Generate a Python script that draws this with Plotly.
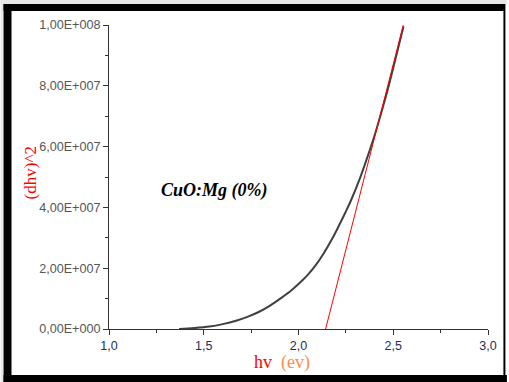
import plotly.graph_objects as go

# ---- data ----
hv = [1.37, 1.45, 1.53, 1.60, 1.67, 1.73, 1.79, 1.85, 1.915, 1.96, 2.00, 2.05, 2.09,
      2.13, 2.177, 2.215, 2.248, 2.279, 2.326, 2.365, 2.405, 2.436, 2.466, 2.51, 2.554]
dhv2 = [0.0, 0.3e6, 0.8e6, 1.6e6, 2.7e6, 4.0e6, 5.6e6, 7.7e6, 10.5e6, 12.6e6, 14.8e6,
        17.9e6, 20.9e6, 24.6e6, 29.6e6, 34.2e6, 38.4e6, 42.6e6, 49.9e6, 56.8e6,
        64.4e6, 71.0e6, 77.6e6, 88.4e6, 99.5e6]
fit_hv = [2.143, 2.553]
fit_y = [0.0, 1.0e8]

y_tickvals = [0, 2e7, 4e7, 6e7, 8e7, 1e8]
y_ticktext = ["0,00E+000", "2,00E+007", "4,00E+007", "6,00E+007", "8,00E+007", "1,00E+008"]
x_tickvals = [1.0, 1.5, 2.0, 2.5, 3.0]
x_ticktext = ["1,0", "1,5", "2,0", "2,5", "3,0"]

W, H = 509, 382
L, R, T, B = 109, 19, 25, 53
pw, ph = W - L - R, H - T - B

def px(x):
    return (x - L) / pw

def py(y):
    return (H - B - y) / ph

fig = go.Figure()
fig.add_trace(go.Scatter(x=hv, y=dhv2, mode="lines", line=dict(color="#404040", width=2),
                         line_shape="spline", line_smoothing=1.0,
                         showlegend=False, hoverinfo="skip"))
fig.add_trace(go.Scatter(x=fit_hv, y=fit_y, mode="lines", line=dict(color="#ff0000", width=1),
                         showlegend=False, hoverinfo="skip"))

axis_common = dict(showgrid=False, zeroline=False, showline=True, linecolor="#333333",
                   linewidth=1, ticks="outside", ticklen=5, tickcolor="#333333", tickwidth=1)

fig.update_xaxes(range=[1.0, 3.0], tickvals=x_tickvals, ticktext=x_ticktext,
                 tickfont=dict(family="Liberation Sans, Arial", size=12.5, color="#1f2d5c"),
                 minor=dict(ticks="outside", ticklen=3, tickcolor="#333333", dtick=0.25, showgrid=False),
                 **axis_common)
fig.update_yaxes(range=[0, 1e8], tickvals=y_tickvals, ticktext=y_ticktext,
                 tickfont=dict(family="Liberation Sans, Arial", size=12.6, color="#555555"),
                 minor=dict(ticks="outside", ticklen=3, tickcolor="#333333", dtick=1e7, showgrid=False),
                 **axis_common)

shapes = []
# light gray outer strip (top / left)
shapes.append(dict(type="rect", xref="paper", yref="paper", x0=px(0), x1=px(W), y0=py(0), y1=py(4),
                   fillcolor="#e8e8e8", line_width=0, layer="below"))
shapes.append(dict(type="rect", xref="paper", yref="paper", x0=px(0), x1=px(3), y0=py(0), y1=py(H),
                   fillcolor="#e8e8e8", line_width=0, layer="below"))
# black frame
shapes.append(dict(type="rect", xref="paper", yref="paper", x0=px(3), x1=px(507), y0=py(4), y1=py(11),
                   fillcolor="black", line_width=0))
shapes.append(dict(type="rect", xref="paper", yref="paper", x0=px(3), x1=px(11), y0=py(4), y1=py(H),
                   fillcolor="black", line_width=0))
shapes.append(dict(type="rect", xref="paper", yref="paper", x0=px(3), x1=px(W), y0=py(375), y1=py(H),
                   fillcolor="black", line_width=0))
shapes.append(dict(type="rect", xref="paper", yref="paper", x0=px(505.5), x1=px(507.5), y0=py(4), y1=py(H),
                   fillcolor="black", line_width=0))

annotations = [
    dict(text="<b><i>CuO:Mg (0%)</i></b>", xref="paper", yref="paper", x=px(215), y=py(190),
         showarrow=False, font=dict(family="Liberation Serif, Times New Roman", size=18, color="black"),
         xanchor="center", yanchor="middle"),
    dict(text="<span style='color:#ff0000'>hv</span>  <span style='color:#ff8c4a'>(ev)</span>",
         xref="paper", yref="paper", x=px(283), y=py(362), showarrow=False,
         font=dict(family="Liberation Serif, Times New Roman", size=18),
         xanchor="center", yanchor="middle"),
    dict(text="(dhv)^2", xref="paper", yref="paper", x=px(30), y=py(173), textangle=-90,
         showarrow=False, font=dict(family="Liberation Serif, Times New Roman", size=17, color="#ff0000"),
         xanchor="center", yanchor="middle"),
]

fig.update_layout(width=W, height=H, margin=dict(l=L, r=R, t=T, b=B, pad=0),
                  paper_bgcolor="white", plot_bgcolor="white",
                  shapes=shapes, annotations=annotations, showlegend=False)

fig.write_html("out.html")
